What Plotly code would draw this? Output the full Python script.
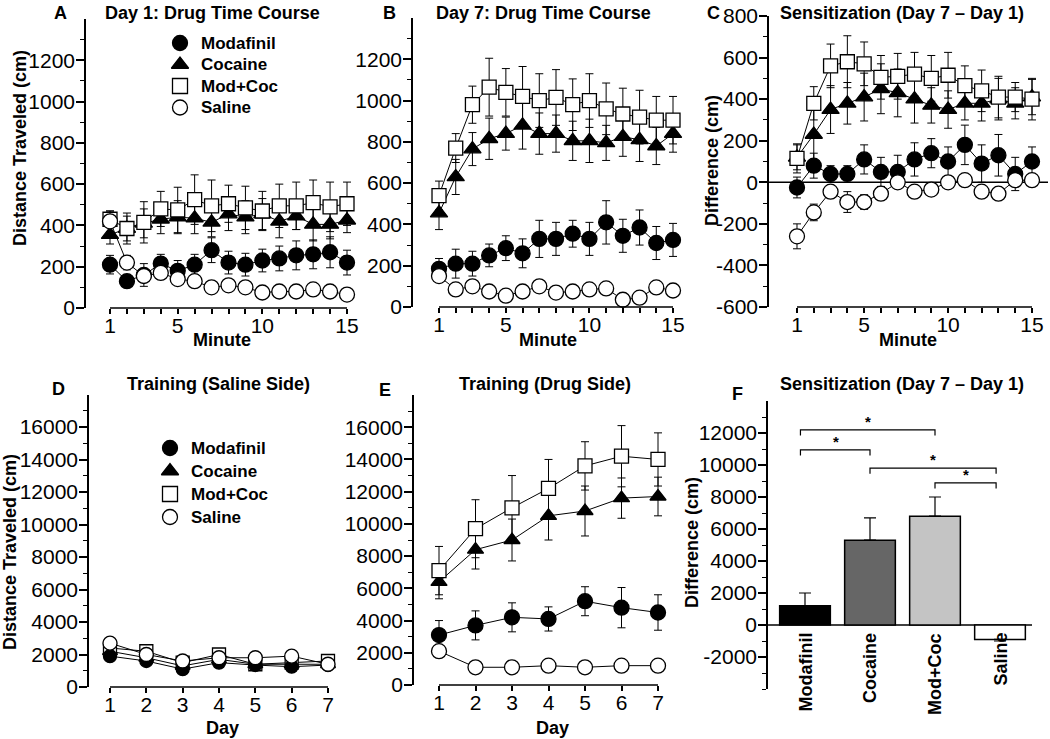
import plotly.graph_objects as go

# ---------------- data ----------------
minutes = list(range(1, 16))
days = list(range(1, 8))
groups = ["Modafinil", "Cocaine", "Mod+Coc", "Saline"]

# Panel A: Day 1 time course
a_mod = [210, 130, 160, 215, 180, 210, 280, 220, 210, 230, 240, 255, 260, 270, 220]
a_mod_err = [45, 30, 55, 45, 50, 50, 60, 55, 55, 55, 60, 70, 70, 75, 60]
a_coc = [355, 385, 410, 430, 440, 435, 415, 455, 440, 455, 420, 445, 405, 405, 425]
a_coc_err = [45, 60, 70, 70, 80, 75, 70, 80, 80, 75, 80, 65, 80, 70, 60]
a_mc = [430, 385, 415, 480, 475, 525, 495, 505, 485, 470, 495, 495, 510, 490, 505]
a_mc_err = [40, 75, 100, 85, 110, 120, 125, 90, 105, 95, 105, 115, 110, 120, 105]
a_sal = [420, 220, 155, 170, 140, 130, 100, 110, 100, 75, 80, 80, 90, 80, 65]
a_sal_err = [50, 35, 30, 30, 25, 25, 20, 25, 25, 20, 20, 20, 25, 20, 20]

# Panel B: Day 7 time course
b_mod = [185, 210, 210, 250, 285, 260, 330, 330, 355, 330, 410, 345, 385, 310, 325]
b_mod_err = [50, 70, 60, 55, 60, 70, 90, 80, 65, 80, 105, 80, 85, 80, 80]
b_coc = [455, 630, 765, 815, 840, 880, 840, 840, 805, 805, 795, 825, 810, 780, 840]
b_coc_err = [80, 85, 80, 100, 80, 115, 100, 90, 95, 105, 85, 95, 105, 90, 90]
b_mc = [540, 770, 980, 1065, 1040, 1020, 1000, 1015, 980, 1000, 960, 935, 920, 905, 905]
b_mc_err = [70, 70, 90, 140, 115, 145, 130, 135, 125, 130, 125, 125, 130, 115, 115]
b_sal = [150, 85, 100, 75, 55, 75, 100, 70, 75, 85, 90, 35, 45, 95, 80]
b_sal_err = [30, 20, 20, 20, 20, 20, 20, 20, 20, 20, 20, 20, 20, 20, 20]

# Panel C: Sensitization (Day 7 - Day 1), per minute
c_mod = [-25, 80, 40, 40, 110, 50, 50, 110, 140, 100, 180, 90, 130, 40, 100]
c_mod_err = [50, 60, 40, 40, 70, 70, 80, 80, 70, 70, 95, 90, 100, 80, 70]
c_coc = [120, 230, 350, 380, 410, 450, 430, 400, 370, 350, 380, 380, 400, 380, 410]
c_coc_err = [60, 130, 115, 100, 115, 120, 115, 115, 85, 90, 80, 85, 100, 75, 85]
c_mc = [115, 380, 560, 580, 570, 505, 510, 520, 500, 515, 465, 440, 410, 410, 400]
c_mc_err = [70, 80, 105, 125, 105, 105, 110, 105, 110, 110, 95, 100, 100, 70, 100]
c_sal = [-260, -145, -45, -95, -95, -55, 0, -45, -35, 0, 10, -45, -55, 10, 10]
c_sal_err = [60, 40, 30, 50, 35, 30, 25, 25, 25, 25, 25, 25, 25, 25, 25]

# Panel D: Training (saline side)
d_mod = [1900, 1600, 1100, 1500, 1350, 1250, 1350]
d_coc = [2200, 1800, 1300, 1700, 1400, 1400, 1400]
d_mc = [2400, 2200, 1500, 2000, 1400, 1500, 1600]
d_sal = [2700, 2000, 1600, 1800, 1800, 1900, 1400]

# Panel E: Training (drug side)
e_mod = [3100, 3700, 4200, 4100, 5200, 4800, 4500]
e_mod_err = [900, 900, 900, 750, 900, 1250, 1100]
e_coc = [6400, 8400, 9000, 10500, 10800, 11600, 11700]
e_coc_err = [1050, 1200, 1300, 1500, 1550, 1250, 1200]
e_mc = [7100, 9700, 11000, 12200, 13600, 14200, 14000]
e_mc_err = [1500, 1800, 2000, 1800, 1500, 1900, 1650]
e_sal = [2100, 1100, 1100, 1200, 1100, 1200, 1200]
e_sal_err = [150, 100, 100, 100, 100, 100, 100]

# Panel F: Sensitization totals
f_vals = [1200, 5300, 6800, -900]
f_err = [800, 1400, 1200, 100]
f_colors = ["#000000", "#666666", "#c4c4c4", "#ffffff"]
sig_pairs = [(0, 2), (0, 1), (1, 3), (2, 3)]
sig_levels = [12200, 10950, 9800, 8880]

# tick labels
tick_time_y = [0, 200, 400, 600, 800, 1000, 1200]
tick_diff_y = [-600, -400, -200, 0, 200, 400, 600, 800]
tick_train_y = [0, 2000, 4000, 6000, 8000, 10000, 12000, 14000, 16000]
tick_f_y = [-2000, 0, 2000, 4000, 6000, 8000, 10000, 12000]
tick_min_x = [1, 5, 10, 15]

# ---------------- layout helpers ----------------
W, H = 1050, 739
FONT = "Liberation Sans, Arial, Helvetica, sans-serif"


def px(x):
    return x / W


def py(y):
    return 1 - y / H


STY = {
    "Modafinil": dict(symbol="circle", color="black", size=15),
    "Cocaine": dict(symbol="triangle-up", color="black", size=15),
    "Mod+Coc": dict(symbol="square", color="white", size=14),
    "Saline": dict(symbol="circle", color="white", size=15),
}

fig = go.Figure()


def add_series(n, x, y, err, name, msize=None):
    s = STY[name]
    fig.add_trace(go.Scatter(
        x=x, y=y, mode="lines+markers", name=name, showlegend=False,
        xaxis="x" + ("" if n == 1 else str(n)), yaxis="y" + ("" if n == 1 else str(n)),
        line=dict(color="black", width=1),
        marker=dict(symbol=s["symbol"], color=s["color"], size=msize or s["size"],
                    line=dict(color="black", width=1.3)),
        error_y=(dict(type="data", array=err, visible=True, color="black",
                      thickness=1, width=4) if err is not None else None),
        cliponaxis=False,
    ))


# draw order: Cocaine, Mod+Coc, Modafinil, Saline (saline on top)
panels_time = [
    (1, a_coc, a_coc_err, a_mc, a_mc_err, a_mod, a_mod_err, a_sal, a_sal_err),
    (2, b_coc, b_coc_err, b_mc, b_mc_err, b_mod, b_mod_err, b_sal, b_sal_err),
    (3, c_coc, c_coc_err, c_mc, c_mc_err, c_mod, c_mod_err, c_sal, c_sal_err),
]
for n, coc, coce, mc, mce, mod, mode, sal, sale in panels_time:
    add_series(n, minutes, coc, coce, "Cocaine")
    add_series(n, minutes, mc, mce, "Mod+Coc")
    add_series(n, minutes, mod, mode, "Modafinil")
    add_series(n, minutes, sal, sale, "Saline")

add_series(4, days, d_coc, None, "Cocaine", 13)
add_series(4, days, d_mc, None, "Mod+Coc", 13)
add_series(4, days, d_mod, None, "Modafinil", 13)
add_series(4, days, d_sal, None, "Saline", 14)

add_series(5, days, e_coc, e_coc_err, "Cocaine", 14)
add_series(5, days, e_mc, e_mc_err, "Mod+Coc", 14)
add_series(5, days, e_mod, e_mod_err, "Modafinil", 15)
add_series(5, days, e_sal, e_sal_err, "Saline", 15)

# Panel F bars
fig.add_trace(go.Bar(
    x=list(range(len(groups))), y=f_vals, xaxis="x6", yaxis="y6", showlegend=False,
    marker=dict(color=f_colors, line=dict(color="black", width=1.5)),
    width=0.78,
    error_y=dict(type="data", symmetric=False,
                 array=[e if v >= 0 else 0 for v, e in zip(f_vals, f_err)],
                 arrayminus=[0 if v >= 0 else e for v, e in zip(f_vals, f_err)],
                 color="black", thickness=1.2, width=6),
))

# legend keys (drawn on a pixel-space overlay axis)
LEG_A = dict(x=180, y0=43, dy=21.5)
LEG_D = dict(x=170, y0=448, dy=23)
for leg in (LEG_A, LEG_D):
    for k, g in enumerate(groups):
        s = STY[g]
        fig.add_trace(go.Scatter(
            x=[leg["x"]], y=[leg["y0"] + k * leg["dy"]], mode="markers", showlegend=False,
            xaxis="x7", yaxis="y7", cliponaxis=False, hoverinfo="skip",
            marker=dict(symbol=s["symbol"], color=s["color"], size=15,
                        line=dict(color="black", width=1.3)),
        ))

# ---------------- axes ----------------
TICKFONT = dict(family=FONT, size=21, color="black")


def yaxis(n, top, bot, rng, major, minor_step):
    mn = []
    v = rng[0]
    while v <= rng[1] - minor_step + 1e-9:
        mn.append(v)
        v += minor_step
    return dict(
        domain=[py(bot), py(top)], range=rng, anchor="x" + ("" if n == 1 else str(n)),
        automargin=False,
        showline=True, linecolor="black", linewidth=1.5, showgrid=False, zeroline=False,
        ticks="outside", ticklen=8, tickwidth=1.5, tickcolor="black",
        tickmode="array", tickvals=major, ticktext=[str(t) for t in major],
        tickfont=TICKFONT, ticklabelstandoff=-3,
        minor=dict(tickmode="array", tickvals=mn, ticks="outside", ticklen=4,
                   tickwidth=1.2, tickcolor="black", showgrid=False),
    )


def xaxis(n, left, right, rng, major, minor_vals):
    return dict(
        domain=[px(left), px(right)], range=rng, anchor="y" + ("" if n == 1 else str(n)),
        automargin=False,
        showline=False, showgrid=False, zeroline=False,
        ticks="outside", ticklen=5, tickwidth=1.5, tickcolor="black",
        tickmode="array", tickvals=major, ticktext=[str(t) for t in major],
        tickfont=TICKFONT, ticklabelstandoff=-6,
        minor=dict(tickmode="array", tickvals=minor_vals, ticks="outside", ticklen=5,
                   tickwidth=1.5, tickcolor="black", showgrid=False),
    )


layout = dict(
    template="none",
    width=W, height=H, margin=dict(l=0, r=0, t=0, b=0, pad=0, autoexpand=False),
    paper_bgcolor="white", plot_bgcolor="rgba(0,0,0,0)",
    font=dict(family=FONT, color="black"),
    showlegend=False,
)

layout["xaxis"] = xaxis(1, 86, 360, [1 - 24 / 16.93, 15 + 13 / 16.93], tick_min_x, minutes)
layout["yaxis"] = yaxis(1, 19, 308, [0, 1400], tick_time_y, 100)
layout["xaxis2"] = xaxis(2, 413, 690, [1 - 26 / 16.71, 15 + 17 / 16.71], tick_min_x, minutes)
layout["yaxis2"] = yaxis(2, 18, 307, [0, 1400], tick_time_y, 100)
layout["xaxis3"] = xaxis(3, 769, 1048, [1 - 28 / 16.79, 15 + 16 / 16.79], tick_min_x, minutes)
layout["yaxis3"] = yaxis(3, 16, 307, [-600, 800], tick_diff_y, 100)
layout["xaxis4"] = xaxis(4, 89, 345, [1 - 21 / 36.33, 7 + 17 / 36.33], days, days)
layout["yaxis4"] = yaxis(4, 394.5, 687, [0, 18000], tick_train_y, 1000)
layout["xaxis5"] = xaxis(5, 414, 675, [1 - 25 / 36.5, 7 + 17 / 36.5], days, days)
layout["yaxis5"] = yaxis(5, 395, 685, [0, 18000], tick_train_y, 1000)
layout["xaxis6"] = dict(domain=[px(768), px(1032)], range=[-37 / 65, 227 / 65],
                        anchor="y6", visible=False, automargin=False)
layout["yaxis6"] = yaxis(6, 401, 689, [-4000, 14000], tick_f_y, 1000)
# pixel-space overlay for legend keys
layout["xaxis7"] = dict(domain=[0, 1], range=[0, W], anchor="y7", visible=False,
                        automargin=False, fixedrange=True)
layout["yaxis7"] = dict(domain=[0, 1], range=[H, 0], anchor="x7", visible=False,
                        automargin=False, fixedrange=True)
fig.update_layout(**layout)

# ---------------- shapes ----------------
shapes = []
# detached x-axis lines
for n, lo, hi in [(1, 1, 15), (2, 1, 15), (3, 1, 15), (4, 1, 7), (5, 1, 7)]:
    shapes.append(dict(type="line", xref="x" + ("" if n == 1 else str(n)),
                       yref="y%s domain" % ("" if n == 1 else str(n)),
                       x0=lo, x1=hi, y0=0, y1=0, line=dict(color="black", width=1.5)))
# zero lines
shapes.append(dict(type="line", xref="x3 domain", yref="y3", x0=0, x1=1, y0=0, y1=0,
                   line=dict(color="black", width=1.5), layer="below"))
shapes.append(dict(type="line", xref="x6 domain", yref="y6", x0=0, x1=1, y0=0, y1=0,
                   line=dict(color="black", width=1.5), layer="below"))
# significance brackets
drop = 350
for (i, j), lev in zip(sig_pairs, sig_levels):
    xa, xb = i - 0.07 if i == 0 else i, j - 0.06 if j == 3 else j
    shapes.append(dict(type="path", xref="x6", yref="y6",
                       path="M %f,%f L %f,%f L %f,%f L %f,%f" % (xa, lev - drop, xa, lev, xb, lev, xb, lev - drop),
                       line=dict(color="black", width=1.2)))
fig.update_layout(shapes=shapes)

# ---------------- annotations ----------------
ann = []


def txt(x, y, s, size=18, bold=True, **kw):
    d = dict(x=px(x), y=py(y), xref="paper", yref="paper", text=s, showarrow=False,
             font=dict(family=FONT, size=size, color="black", weight="bold" if bold else "normal"),
             xanchor="center", yanchor="middle")
    d.update(kw)
    ann.append(d)


# panel titles
txt(212, 13, "Day 1: Drug Time Course", 18)
txt(543, 13, "Day 7: Drug Time Course", 18)
txt(902, 13, "Sensitization (Day 7 – Day 1)", 18)
txt(218, 384, "Training (Saline Side)", 18)
txt(545, 384, "Training (Drug Side)", 18)
txt(902, 384, "Sensitization (Day 7 – Day 1)", 18)
# panel letters
txt(60, 13, "A", 18)
txt(389, 13, "B", 18)
txt(713, 13, "C", 18)
txt(58, 389, "D", 18)
txt(385, 390, "E", 18)
txt(737, 394, "F", 18)
# axis titles
txt(20, 148, "Distance Traveled (cm)", 18, textangle=-90)
txt(10, 552, "Distance Traveled (cm)", 18, textangle=-90)
txt(712, 161, "Difference (cm)", 18, textangle=-90)
txt(692, 542, "Difference (cm)", 18, textangle=-90)
txt(222, 340, "Minute", 18)
txt(548, 340, "Minute", 18)
txt(908, 340, "Minute", 18)
txt(222, 728, "Day", 18)
txt(552, 728, "Day", 18)
# legend labels
for leg in (LEG_A, LEG_D):
    for k, g in enumerate(groups):
        txt(leg["x"] + 19, leg["y0"] + k * leg["dy"], g, 17, xanchor="left")

# F category labels under zero line
for i, g in enumerate(groups):
    ann.append(dict(x=i, y=0, xref="x6", yref="y6", text=g, showarrow=False,
                    textangle=-90, xanchor="center", yanchor="top", yshift=-6,
                    font=dict(family=FONT, size=18, color="black", weight="bold")))
# asterisks
for (i, j), lev in zip(sig_pairs, sig_levels):
    ann.append(dict(x=(i + j) / 2 - 0.03, y=lev, xref="x6", yref="y6", text="*",
                    showarrow=False, yanchor="bottom", yshift=-2,
                    font=dict(family=FONT, size=15, color="black", weight="bold")))

fig.update_layout(annotations=ann)

fig.write_html("out.html", config={"displayModeBar": False},
               post_script="document.body.style.margin='0px';")
